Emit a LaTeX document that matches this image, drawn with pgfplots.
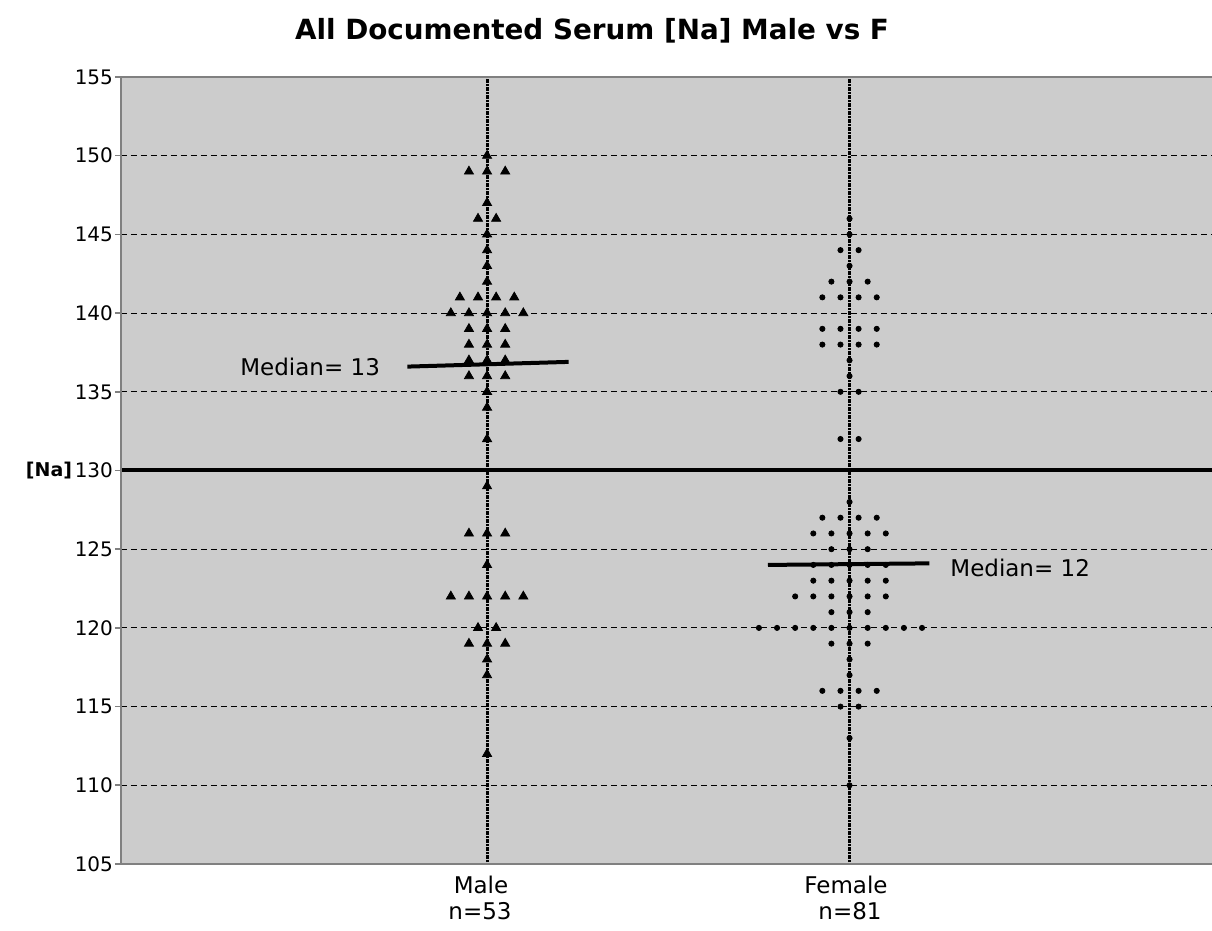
\documentclass[border=0pt]{standalone}
\usepackage{fontspec}
\setmainfont{DejaVu Sans}
\usepackage{pgfplots}
\pgfplotsset{compat=1.18}
\definecolor{plotbg}{HTML}{CCCCCC}
\definecolor{framegrey}{HTML}{808080}

% Male: one row per dot, offsets of 0.025 around the category at x=1
\pgfplotstableread[row sep=\\]{
x y\\
1 150\\ 0.95 149\\ 1 149\\ 1.05 149\\ 1 147\\ 0.975 146\\ 1.025 146\\
1 145\\ 1 144\\ 1 143\\ 1 142\\
0.925 141\\ 0.975 141\\ 1.025 141\\ 1.075 141\\
0.9 140\\ 0.95 140\\ 1 140\\ 1.05 140\\ 1.1 140\\
0.95 139\\ 1 139\\ 1.05 139\\ 0.95 138\\ 1 138\\ 1.05 138\\
0.95 137\\ 1 137\\ 1.05 137\\ 0.95 136\\ 1 136\\ 1.05 136\\
1 135\\ 1 134\\ 1 132\\ 1 129\\
0.95 126\\ 1 126\\ 1.05 126\\ 1 124\\
0.9 122\\ 0.95 122\\ 1 122\\ 1.05 122\\ 1.1 122\\
0.975 120\\ 1.025 120\\ 0.95 119\\ 1 119\\ 1.05 119\\
1 118\\ 1 117\\ 1 112\\
}\male

% Female: same layout around x=2
\pgfplotstableread[row sep=\\]{
x y\\
2 146\\ 2 145\\ 1.975 144\\ 2.025 144\\ 2 143\\
1.95 142\\ 2 142\\ 2.05 142\\
1.925 141\\ 1.975 141\\ 2.025 141\\ 2.075 141\\
1.925 139\\ 1.975 139\\ 2.025 139\\ 2.075 139\\
1.925 138\\ 1.975 138\\ 2.025 138\\ 2.075 138\\
2 137\\ 2 136\\ 1.975 135\\ 2.025 135\\ 1.975 132\\ 2.025 132\\
2 128\\ 1.925 127\\ 1.975 127\\ 2.025 127\\ 2.075 127\\
1.9 126\\ 1.95 126\\ 2 126\\ 2.05 126\\ 2.1 126\\
1.95 125\\ 2 125\\ 2.05 125\\
1.9 124\\ 1.95 124\\ 2 124\\ 2.05 124\\ 2.1 124\\
1.9 123\\ 1.95 123\\ 2 123\\ 2.05 123\\ 2.1 123\\
1.85 122\\ 1.9 122\\ 1.95 122\\ 2 122\\ 2.05 122\\ 2.1 122\\
1.95 121\\ 2 121\\ 2.05 121\\
1.75 120\\ 1.8 120\\ 1.85 120\\ 1.9 120\\ 1.95 120\\ 2 120\\ 2.05 120\\ 2.1 120\\ 2.15 120\\ 2.2 120\\
1.95 119\\ 2 119\\ 2.05 119\\ 2 118\\ 2 117\\
1.925 116\\ 1.975 116\\ 2.025 116\\ 2.075 116\\
1.975 115\\ 2.025 115\\ 2 113\\ 2 110\\
}\female

\begin{document}
\begin{tikzpicture}[x=1pt,y=1pt]
% page = 1212 x 931 px at 0.5pt per px
\useasboundingbox (0,0) rectangle (606,465.5);
\begin{axis}[
    at={(60.5pt,33.5pt)}, anchor=south west,
    scale only axis, width=545.5pt, height=393.5pt,
    xmin=-0.01, xmax=3, ymin=105, ymax=155,
    xtick=\empty,
    ytick={105,110,...,155},
    ymajorgrids,
    grid style={black, line width=0.5pt, dash pattern=on 3pt off 2pt},
    axis line style={draw=none},
    ytick pos=left, tick align=outside, major tick length=3pt,
    y tick style={draw=framegrey, line width=0.8pt},
    tick label style={font=\fontsize{10}{12}\selectfont},
    yticklabel style={xshift=2.5pt},
    /pgf/number format/assume math mode=true,
    axis background/.style={fill=plotbg},
    clip=false,
]
% category drop lines
\addplot[black, line width=1.5pt, dash pattern=on 0.6pt off 0.2pt]
    coordinates {(1,105) (1,155)};
\addplot[black, line width=1.5pt, dash pattern=on 0.6pt off 0.2pt]
    coordinates {(2,105) (2,155)};
% 130 reference
\addplot[black, line width=2pt] coordinates {(-0.01,130) (3,130)};

\addplot[only marks, mark=triangle*, mark size=2.6pt, black] table {\male};
\addplot[only marks, mark=*, mark size=1.3pt, black] table {\female};

% medians
\addplot[black, line width=2pt] coordinates {(0.78,136.6) (1.225,136.9)};
\addplot[black, line width=2pt] coordinates {(1.775,124.0) (2.22,124.1)};

\draw[framegrey, line width=1pt]
    (rel axis cs:1,1) -- (rel axis cs:0,1) -- (rel axis cs:0,0) -- (rel axis cs:1,0);
\end{axis}

\node[anchor=base, font=\bfseries\fontsize{13.9}{16}\selectfont]
    at (296,445.5) {All Documented Serum [Na] Male vs F};
\node[inner sep=0pt, font=\bfseries\fontsize{9.5}{12}\selectfont] at (24.5,230) {[Na]};

\node[anchor=base west, inner sep=0pt, font=\fontsize{11.5}{14}\selectfont]
    at (120,277.5) {Median= 13};
\node[anchor=base west, inner sep=0pt, font=\fontsize{11.5}{14}\selectfont]
    at (475,177) {Median= 12};

\node[anchor=base, inner sep=0pt, font=\fontsize{11.5}{14}\selectfont] at (240.5,18.5) {Male};
\node[anchor=base, inner sep=0pt, font=\fontsize{11.5}{14}\selectfont] at (240,5.5) {n=53};
\node[anchor=base, inner sep=0pt, font=\fontsize{11.5}{14}\selectfont] at (423,18.5) {Female};
\node[anchor=base, inner sep=0pt, font=\fontsize{11.5}{14}\selectfont] at (425,5.5) {n=81};
\end{tikzpicture}
\end{document}
